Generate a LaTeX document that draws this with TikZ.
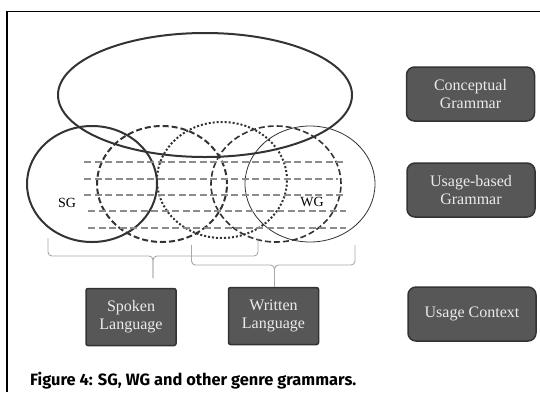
\documentclass[tikz,border=0pt]{standalone}
\usepackage{fontspec}
\setmainfont{Liberation Serif}
\newfontfamily\capfont{Fira Sans}
\usetikzlibrary{shapes.geometric}
\definecolor{boxgray}{HTML}{575757}
\definecolor{edgegray}{HTML}{333333}
\definecolor{ringgray}{HTML}{333333}
\definecolor{linegray}{HTML}{8C8C8C}
\definecolor{bracegray}{HTML}{A8A8A8}

\begin{document}
\begin{tikzpicture}[x=1pt,y=-1pt,
  ring/.style={ellipse,draw=ringgray,line width=2pt,minimum width=130pt,minimum height=116pt,inner sep=0pt},
  genre box/.style={draw=edgegray,line width=1.5pt,fill=boxgray,text=white!92!black,font=\fontsize{16}{18}\selectfont,align=center,minimum width=90pt,minimum height=57pt,rounded corners=2pt},
  level box/.style={genre box,minimum width=128pt,minimum height=54pt,rounded corners=8pt},
  brace/.style={draw=bracegray,line width=0.9pt,rounded corners=4pt}]
  \useasboundingbox (0,0) rectangle (540,392);
  \draw[line width=1.4pt] (7,392) -- (7,11.5) -- (540,11.5);

  % grammars
  \node[ring, minimum width=294pt, minimum height=124pt] (cg) at (205,95) {};
  \node[ring] (sg) at (92,184) {};
  \node[ring, dash pattern=on 6pt off 3pt] (g1) at (162,184) {};
  \node[ring, dotted] (g2) at (222,180) {};
  \node[ring, line width=1.6pt, dash pattern=on 6pt off 3pt] (g3) at (276,184) {};
  \node[ring, line width=0.8pt] (wg) at (310,184) {};
  \foreach \y/\a/\b in {162/84/343, 179/84/338, 195/84/343, 211/88/346, 228/88/346}
    \draw[linegray, line width=1.2pt, dash pattern=on 7pt off 3.5pt] (\a,\y) -- (\b,\y);
  \node[font=\fontsize{14}{16}\selectfont] (sglabel) at (67,203) {SG};
  \node[font=\fontsize{14}{16}\selectfont] (wglabel) at (312,202) {WG};

  % boxes
  \node[genre box] (spoken) at (131,317) {Spoken\\Language};
  \node[genre box] (written) at (273.5,316) {Written\\Language};
  \node[level box] (concept) at (470.5,94) {Conceptual\\Grammar};
  \node[level box] (usage) at (471,190) {Usage-based\\Grammar};
  \node[level box] (context) at (472,314) {Usage Context};

  % braces
  \coordinate (b1l) at (48,238);
  \coordinate (b1r) at (258,238);
  \coordinate (b1m) at (153,256);
  \coordinate (b1t) at (153,278);
  \draw[brace] (b1l) |- (b1m) -- (b1t);
  \draw[brace] (b1r) |- (b1m) -- (b1t);
  \coordinate (b2l) at (191.5,245);
  \coordinate (b2r) at (355,245);
  \coordinate (b2m) at (274.5,265);
  \draw[brace] (b2l) |- (b2m) -- (b2m |- written.north);
  \draw[brace] (b2r) |- (b2m) -- (b2m |- written.north);

  \node[anchor=base west, inner sep=0pt, font=\capfont\bfseries\fontsize{16.4}{19}\selectfont] (caption) at (30,385) {Figure 4: SG, WG and other genre grammars.};
\end{tikzpicture}
\end{document}
